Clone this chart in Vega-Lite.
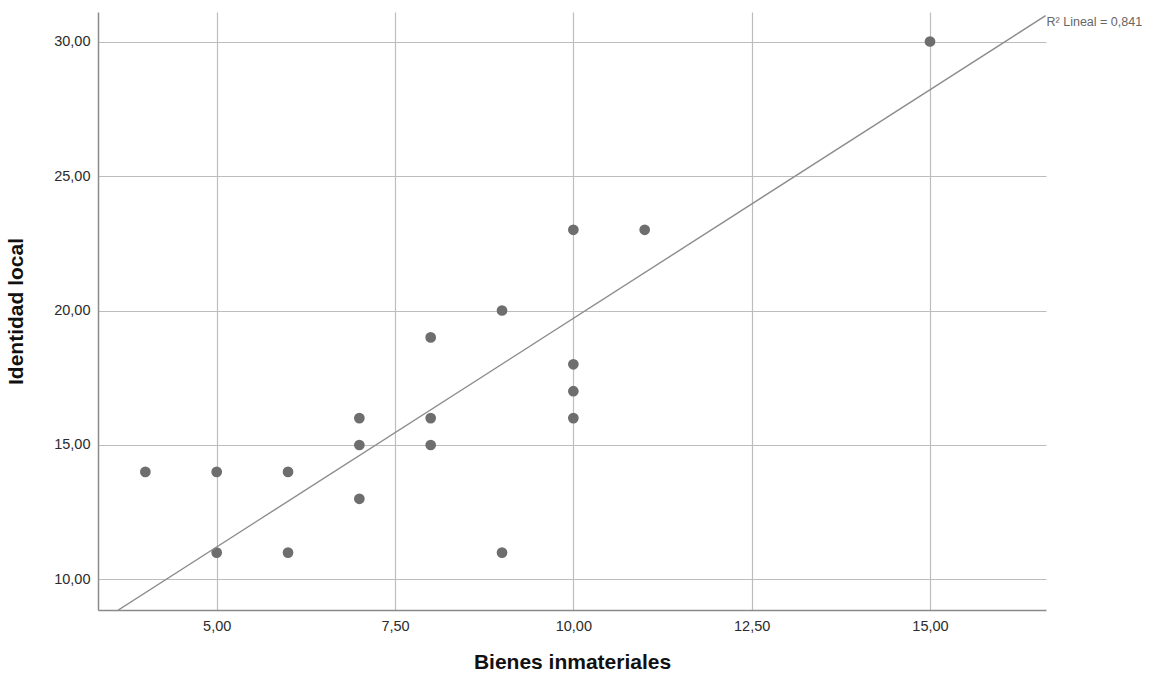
{
  "$schema": "https://vega.github.io/schema/vega-lite/v6.json",
  "autosize": {"type": "none"},
  "width": 948,
  "height": 598,
  "padding": {"left": 98, "top": 12, "right": 124, "bottom": 69},
  "background": "white",
  "config": {
    "view": {"stroke": null},
    "font": "Liberation Sans",
    "axis": {
      "ticks": false,
      "gridColor": "#bdbdbd",
      "gridWidth": 1.2,
      "gridOpacity": 1,
      "domainColor": "#8a8a8a",
      "domainWidth": 1.5,
      "labelFont": "Liberation Sans",
      "labelFontSize": 14.5,
      "labelColor": "#2b2b2b",
      "titleFont": "Liberation Sans",
      "titleFontSize": 21,
      "titleFontWeight": "bold",
      "titleColor": "#111111"
    }
  },
  "datasets": {
    "pts": [
      {"bienes": 4, "identidad": 14},
      {"bienes": 5, "identidad": 14},
      {"bienes": 5, "identidad": 11},
      {"bienes": 6, "identidad": 14},
      {"bienes": 6, "identidad": 11},
      {"bienes": 7, "identidad": 16},
      {"bienes": 7, "identidad": 15},
      {"bienes": 7, "identidad": 13},
      {"bienes": 8, "identidad": 19},
      {"bienes": 8, "identidad": 16},
      {"bienes": 8, "identidad": 15},
      {"bienes": 9, "identidad": 20},
      {"bienes": 9, "identidad": 11},
      {"bienes": 10, "identidad": 23},
      {"bienes": 10, "identidad": 18},
      {"bienes": 10, "identidad": 17},
      {"bienes": 10, "identidad": 16},
      {"bienes": 11, "identidad": 23},
      {"bienes": 15, "identidad": 30}
    ],
    "fit": [
      {"bienes": 3.621, "identidad": 8.866},
      {"bienes": 16.62, "identidad": 30.96}
    ],
    "label": [
      {"bienes": 16.62, "identidad": 30.96, "text": "R² Lineal = 0,841"}
    ]
  },
  "layer": [
    {
      "data": {"name": "pts"},
      "mark": {"type": "circle", "size": 115, "color": "#6e6e6e", "opacity": 1},
      "encoding": {
        "x": {
          "field": "bienes", "type": "quantitative",
          "scale": {"domain": [3.336, 16.626], "nice": false, "zero": false},
          "axis": {
            "title": "Bienes inmateriales",
            "values": [5, 7.5, 10, 12.5, 15],
            "labelExpr": "replace(format(datum.value, '.2f'), '.', ',')",
            "labelPadding": 9,
            "titlePadding": 19
          }
        },
        "y": {
          "field": "identidad", "type": "quantitative",
          "scale": {"domain": [8.866, 31.097], "nice": false, "zero": false},
          "axis": {
            "title": "Identidad local",
            "values": [10, 15, 20, 25, 30],
            "labelExpr": "replace(format(datum.value, '.2f'), '.', ',')",
            "labelPadding": 8,
            "titlePadding": 27
          }
        }
      }
    },
    {
      "data": {"name": "fit"},
      "mark": {"type": "line", "color": "#8c8c8c", "strokeWidth": 1.4, "clip": true},
      "encoding": {
        "x": {"field": "bienes", "type": "quantitative"},
        "y": {"field": "identidad", "type": "quantitative"}
      }
    },
    {
      "data": {"name": "label"},
      "mark": {"type": "text", "align": "left", "baseline": "middle", "dx": 1, "dy": 6, "fontSize": 12.5, "color": "#666666", "font": "Liberation Sans"},
      "encoding": {
        "x": {"field": "bienes", "type": "quantitative"},
        "y": {"field": "identidad", "type": "quantitative"},
        "text": {"field": "text"}
      }
    }
  ]
}
